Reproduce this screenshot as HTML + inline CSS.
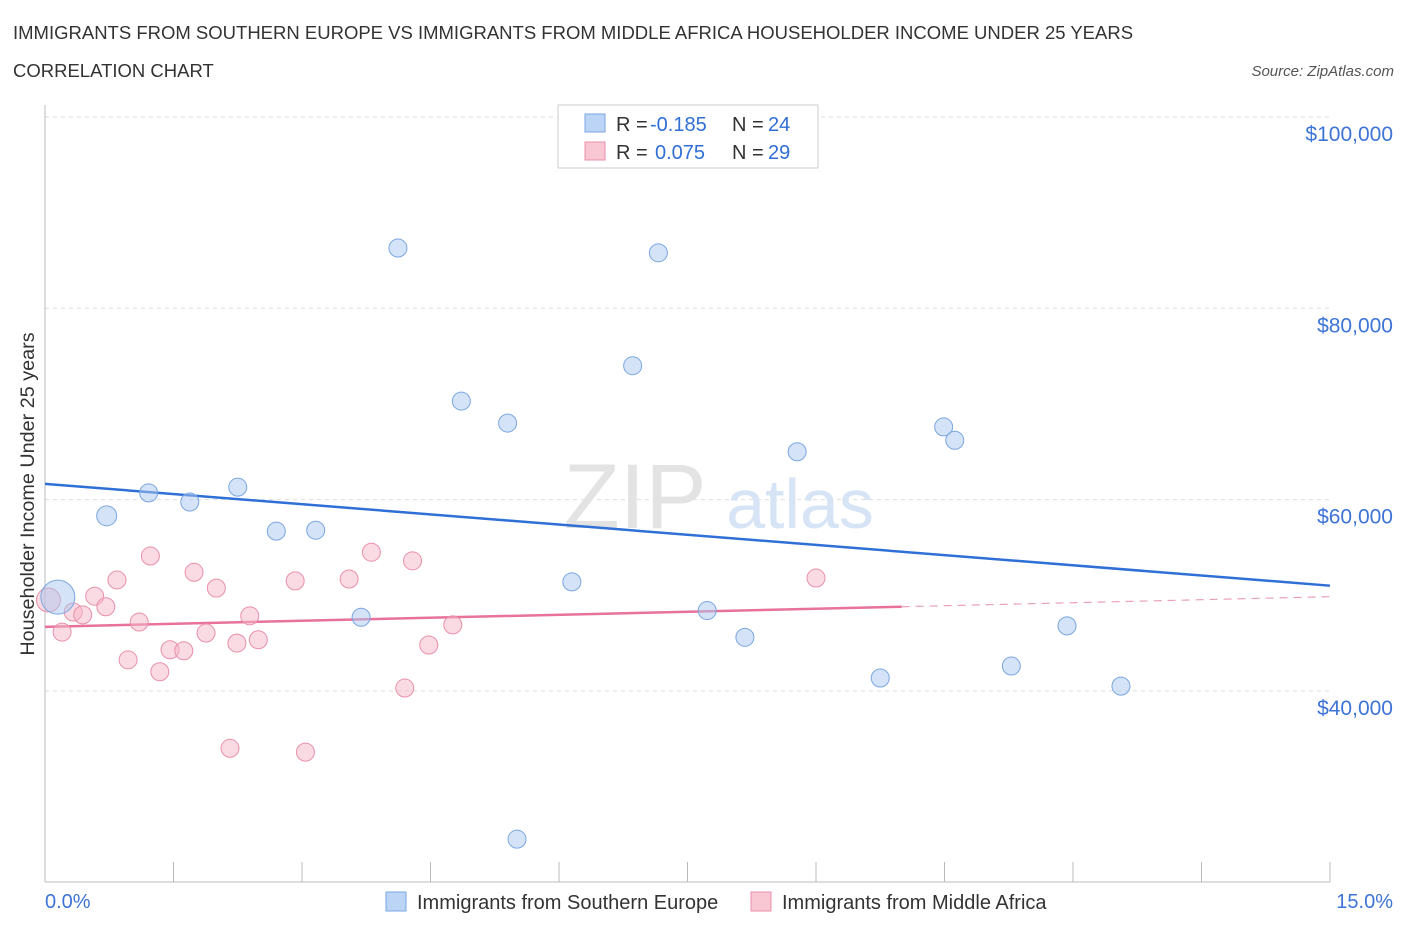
<!DOCTYPE html>
<html><head><meta charset="utf-8"><style>
body{margin:0;background:#fff;font-family:"Liberation Sans",sans-serif;}
svg text{font-family:"Liberation Sans",sans-serif;}
</style></head><body>
<svg width="1406" height="930" xmlns="http://www.w3.org/2000/svg">
<text x="13" y="39" font-size="18.5" fill="#333">IMMIGRANTS FROM SOUTHERN EUROPE VS IMMIGRANTS FROM MIDDLE AFRICA HOUSEHOLDER INCOME UNDER 25 YEARS</text>
<text x="13" y="77" font-size="18.5" fill="#333">CORRELATION CHART</text>
<text x="1394" y="76" font-size="15" fill="#555" text-anchor="end" font-style="italic">Source: ZipAtlas.com</text>
<g id="grid"></g>
<g>
<text x="635" y="528" font-size="92" fill="#e3e3e3" text-anchor="middle" font-family="Liberation Serif">ZIP</text>
<text x="800" y="528" font-size="70" fill="#d6e4f5" text-anchor="middle">atlas</text>
</g>
<g id="axes"></g>
<g id="trend"></g>
<g id="pts"></g>
<g>
<rect x="558" y="105" width="260" height="63" fill="#fff" stroke="#ccc"/>
<rect x="585" y="114" width="20" height="18" fill="#bcd4f6" stroke="#7aa6e0"/>
<text x="616" y="131" font-size="20" fill="#333">R =</text>
<text x="650" y="131" font-size="20" fill="#2f6fd6">-0.185</text>
<text x="732" y="131" font-size="20" fill="#333">N =</text>
<text x="768" y="131" font-size="20" fill="#2f6fd6">24</text>
<rect x="585" y="142" width="20" height="18" fill="#f9c6d4" stroke="#e890aa"/>
<text x="616" y="159" font-size="20" fill="#333">R =</text>
<text x="655" y="159" font-size="20" fill="#2f6fd6">0.075</text>
<text x="732" y="159" font-size="20" fill="#333">N =</text>
<text x="768" y="159" font-size="20" fill="#2f6fd6">29</text>
</g>
<g>
<rect x="386" y="892" width="20" height="19" fill="#bcd4f6" stroke="#7aa6e0"/>
<text x="417" y="909" font-size="20" fill="#333">Immigrants from Southern Europe</text>
<rect x="751" y="892" width="20" height="19" fill="#f9c6d4" stroke="#e890aa"/>
<text x="782" y="909" font-size="20" fill="#333">Immigrants from Middle Africa</text>
</g>
<text transform="translate(34,494) rotate(-90)" font-size="19.8" fill="#333" text-anchor="middle">Householder Income Under 25 years</text>
</svg>
<script>
const blueX=[0.15,0.72,1.21,1.69,2.25,2.70,3.16,3.69,4.12,4.86,5.40,5.51,6.15,6.86,7.16,7.73,8.17,8.78,9.75,10.49,10.62,11.28,11.93,12.56];
const blueY=[49800,58300,60700,59750,61300,56700,56800,47700,86300,70300,68000,24500,51400,74000,85800,48400,45600,65000,41350,67600,66200,42600,46800,40500];
const blueR=[17,10,9,9,9,9,9,9,9,9,9,9,9,9,9,9,9,9,9,9,9,9,9,9];
const pinkX=[0.04,0.20,0.33,0.44,0.58,0.71,0.84,0.97,1.10,1.23,1.34,1.46,1.62,1.74,1.88,2.00,2.16,2.24,2.39,2.49,2.92,3.04,3.55,3.81,4.20,4.29,4.48,4.76,9.00];
const pinkY=[49500,46150,48250,47950,49900,48800,51600,43250,47200,54100,42000,44300,44200,52400,46050,50750,34000,45000,47850,45350,51500,33600,51700,54500,40300,53600,44800,46900,51800];
const pinkR=[12,9,9,9,9,9,9,9,9,9,9,9,9,9,9,9,9,9,9,9,9,9,9,9,9,9,9,9,9];
const yTicks=[40000,60000,80000,100000];
const yTickLabels=["$40,000","$60,000","$80,000","$100,000"];
const xTicks=[0,1.5,3,4.5,6,7.5,9,10.5,12,13.5,15];
const blueTrend=[61650,51000];
const pinkTrend=[46700,49850];
const pinkSolidEnd=10;
const NS="http://www.w3.org/2000/svg";
const X=v=>45+v/15*1285, Y=v=>117+(100000-v)/20000*191.3;
function mk(t,a,p){const e=document.createElementNS(NS,t);for(const k in a)e.setAttribute(k,a[k]);p.appendChild(e);return e;}
const grid=document.getElementById('grid'),axes=document.getElementById('axes'),trend=document.getElementById('trend'),pts=document.getElementById('pts');
yTicks.forEach((v,i)=>{
 const l=mk('line',{x1:45,x2:1330,y1:Y(v),y2:Y(v),stroke:'#ddd','stroke-dasharray':'4,4'},grid);
 
 
 const t=mk('text',{x:1393,y:Y(v)+24,'font-size':21,fill:'#3d74d6','text-anchor':'end'},axes);
 t.textContent=yTickLabels[i];
 
 
});
const ax=mk('line',{x1:45,x2:1330,y1:882,y2:882,stroke:'#bbb'},axes);


const ay=mk('line',{x1:45,x2:45,y1:105,y2:882,stroke:'#bbb'},axes);


xTicks.forEach(v=>{
 const t=mk('line',{x1:X(v),x2:X(v),y1:862,y2:882,stroke:'#bbb'},axes);
 
 
});
[[0,'0.0%','start',45],[15,'15.0%','end',1393]].forEach(d=>{
 const t=mk('text',{x:d[3],y:908,'font-size':20,fill:'#3d74d6','text-anchor':d[2]},axes);
 t.textContent=d[1];
 
 
});
const bl=mk('line',{x1:X(0),y1:Y(blueTrend[0]),x2:X(15),y2:Y(blueTrend[1]),stroke:'#2f6fd6','stroke-width':2.5},trend);


const pm=pinkTrend[0]+(pinkTrend[1]-pinkTrend[0])*pinkSolidEnd/15;
const pl=mk('line',{x1:X(0),y1:Y(pinkTrend[0]),x2:X(pinkSolidEnd),y2:Y(pm),stroke:'#e8729a','stroke-width':2.5},trend);


const pd=mk('line',{x1:X(pinkSolidEnd),y1:Y(pm),x2:X(15),y2:Y(pinkTrend[1]),stroke:'#e8a0b8','stroke-width':1.2,'stroke-dasharray':'8,6'},trend);


pinkX.forEach((v,i)=>{
 const c=mk('circle',{cx:X(v),cy:Y(pinkY[i]),r:pinkR[i],fill:'rgba(245,182,200,0.5)',stroke:'#e890aa','stroke-width':1},pts);
 
 
});
blueX.forEach((v,i)=>{
 const c=mk('circle',{cx:X(v),cy:Y(blueY[i]),r:blueR[i],fill:'rgba(169,200,240,0.5)',stroke:'#7aa6e0','stroke-width':1},pts);
 
 
});
</script>
</body></html>
